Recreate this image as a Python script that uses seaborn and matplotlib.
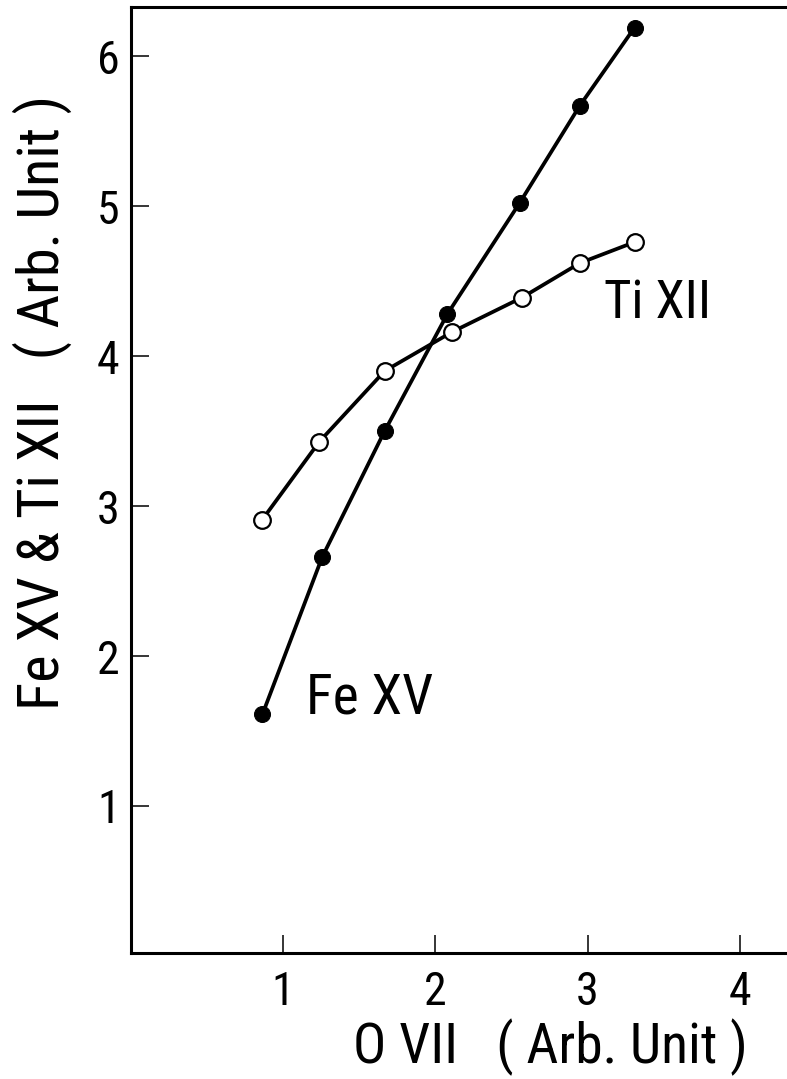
import matplotlib
matplotlib.use("Agg")
import matplotlib.pyplot as plt
from matplotlib import font_manager
import pandas as pd
import seaborn as sns

# O VII intensity (x) against Fe XV and Ti XII intensities (arbitrary units)
fe_x = [0.865, 1.258, 1.668, 2.080, 2.554, 2.950, 3.309]
fe_y = [1.61, 2.66, 3.50, 4.28, 5.02, 5.67, 6.19]
ti_x = [0.865, 1.240, 1.668, 2.110, 2.570, 2.950, 3.310]
ti_y = [2.91, 3.43, 3.90, 4.16, 4.39, 4.62, 4.76]

x_ticks = [1, 2, 3, 4]
y_ticks = [1, 2, 3, 4, 5, 6]

x_label = "O VII   ( Arb. Unit )"
y_label = "Fe XV & Ti XII   ( Arb. Unit )"
fe_name = "Fe XV"
ti_name = "Ti XII"

sns.set_style("ticks")

# look for a narrow / condensed sans face
narrow = {"condensed", "semi-condensed", "extra-condensed", "ultra-condensed"}
faces = [(f.name, str(f.stretch)) for f in font_manager.fontManager.ttflist]
family, stretch = "Liberation Sans", "normal"
for want in ["Roboto Condensed", "Liberation Sans Narrow", "Noto Sans",
             "DejaVu Sans", "Open Sans", "Roboto", "Lato", "Inter"]:
    hits = [s for n, s in faces if n == want and s in narrow]
    if hits:
        family = want
        stretch = "extra-condensed" if "extra-condensed" in hits else hits[0]
        break
plt.rcParams["font.family"] = [family, "DejaVu Sans"]
plt.rcParams["font.stretch"] = stretch
scale = 1.0 if stretch != "normal" else 0.8

fe = pd.DataFrame({"x": fe_x, "y": fe_y})
ti = pd.DataFrame({"x": ti_x, "y": ti_y})

fig = plt.figure(figsize=(7.87, 10.79), dpi=100)
ax = fig.add_axes([0.166, 0.1168, 0.834, 0.8767])

sns.lineplot(data=ti, x="x", y="y", ax=ax, color="black", lw=2.7,
             marker="o", markersize=12, markerfacecolor="white",
             markeredgecolor="black", markeredgewidth=1.6, sort=False)
sns.lineplot(data=fe, x="x", y="y", ax=ax, color="black", lw=2.7,
             marker="o", markersize=11.5, markerfacecolor="black",
             markeredgecolor="black", sort=False)

ax.set_xlim(0, 4.31)
ax.set_ylim(0.02, 6.327)
ax.set_xticks(x_ticks)
ax.set_yticks(y_ticks)
ax.set_xticklabels([str(t) for t in x_ticks])
ax.set_yticklabels([str(t) for t in y_ticks])

ax.tick_params(axis="both", direction="in", length=13, width=1.1,
               color="black", labelsize=33 * scale, labelcolor="black")
ax.tick_params(axis="x", pad=12)
ax.tick_params(axis="y", pad=8)

for side in ["left", "bottom", "top"]:
    ax.spines[side].set_linewidth(2.2)
    ax.spines[side].set_color("black")
ax.spines["right"].set_visible(False)

ax.set_xlabel(x_label, fontsize=40 * scale, color="black")
ax.xaxis.set_label_coords(0.640, -0.100)
ax.xaxis.label.set_va("center")

ax.set_ylabel(y_label, fontsize=42 * scale, color="black")
ax.yaxis.set_label_coords(-0.135, 0.582)
ax.yaxis.label.set_va("center")

ax.text(1.15, 1.72, fe_name, fontsize=40 * scale, ha="left", va="center",
        color="black")
ax.text(3.11, 4.35, ti_name, fontsize=38 * scale, ha="left", va="center",
        color="black")

fig.savefig("out.png", dpi=100, facecolor="white")
